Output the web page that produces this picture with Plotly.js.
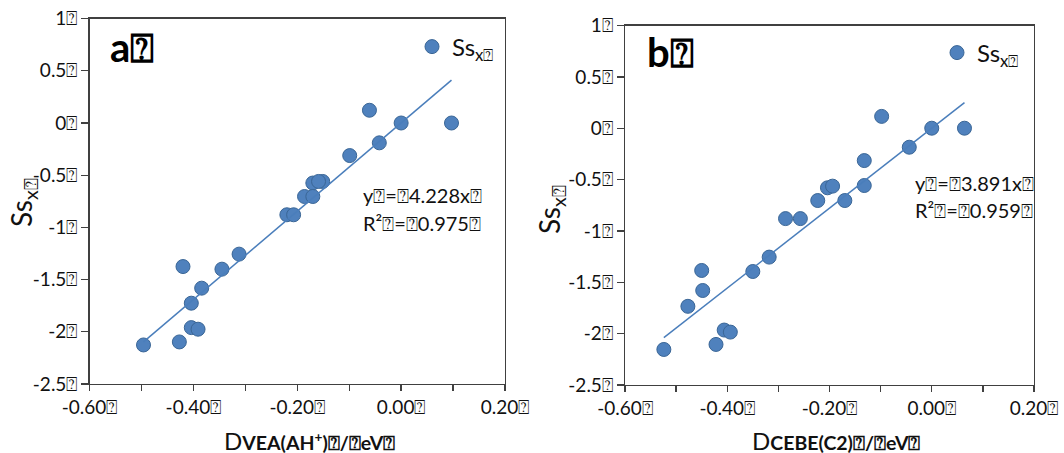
<!DOCTYPE html>
<html>
<head>
<meta charset="utf-8">
<script src="https://cdn.plot.ly/plotly-3.0.1.min.js"></script>
<style>html,body{margin:0;padding:0;background:#fff;}#chart{width:1064px;height:453px;}</style>
</head>
<body>
<div id="chart"></div>
<script>
// Panel a: DVEA(AH+) vs Ss_x
const aX = [-0.061, 0.000, 0.097, -0.042, -0.099, -0.151, -0.170, -0.159, -0.186, -0.170, -0.220, -0.207, -0.312, -0.420, -0.345, -0.384, -0.404, -0.404, -0.391, -0.427, -0.496];
const aY = [0.122, 0.000, 0.000, -0.190, -0.312, -0.560, -0.575, -0.560, -0.704, -0.704, -0.879, -0.879, -1.256, -1.375, -1.400, -1.582, -1.726, -1.960, -1.975, -2.097, -2.126];
const aSlope = 4.228;
const aR2 = 0.975;
// Panel b: DCEBE(C2) vs Ss_x
const bX = [-0.098, 0.000, 0.064, -0.044, -0.132, -0.132, -0.204, -0.194, -0.223, -0.170, -0.286, -0.257, -0.318, -0.450, -0.350, -0.448, -0.477, -0.406, -0.394, -0.422, -0.524];
const bY = [0.115, 0.000, 0.000, -0.185, -0.315, -0.558, -0.580, -0.564, -0.704, -0.704, -0.880, -0.880, -1.255, -1.385, -1.395, -1.580, -1.734, -1.965, -1.985, -2.105, -2.154];
const bSlope = 3.891;
const bR2 = 0.959;

const Q = '\u2370';
const xTickVals = [-0.6, -0.5, -0.4, -0.3, -0.2, -0.1, 0, 0.1, 0.2];
const xTickText = ['-0.60' + Q, '', '-0.40' + Q, '', '-0.20' + Q, '', '0.00' + Q, '', '0.20' + Q];
const yTickVals = [-2.5, -2, -1.5, -1, -0.5, 0, 0.5, 1];
const yTickText = ['-2.5' + Q, '-2' + Q, '-1.5' + Q, '-1' + Q, '-0.5' + Q, '0' + Q, '0.5' + Q, '1' + Q];
const seriesName = 'Ss<sub>x' + Q + '</sub>';
const panelLabels = ['a' + Q, 'b' + Q];
const xTitleParts = [['D', 'VEA(AH<sup>+</sup>)' + Q + '/' + Q + 'eV' + Q], ['D', 'CEBE(C2)' + Q + '/' + Q + 'eV' + Q]];

const FONT = 'Lato, "Open Sans", sans-serif';
const mColor = '#4F81BD', mLine = '#3A6696', lColor = '#4A7EBB', axColor = '#404040';

function fitLine(xs, slope) {
  const lo = Math.min(...xs), hi = Math.max(...xs);
  return {x: [lo, hi], y: [slope * lo, slope * hi]};
}
const la = fitLine(aX, aSlope), lb = fitLine(bX, bSlope);

const traces = [
  {x: aX, y: aY, type: 'scatter', mode: 'markers', name: seriesName, xaxis: 'x', yaxis: 'y', legend: 'legend',
   marker: {size: 14, color: mColor, line: {color: mLine, width: 1}}},
  {x: la.x, y: la.y, type: 'scatter', mode: 'lines', showlegend: false, xaxis: 'x', yaxis: 'y',
   line: {color: lColor, width: 1.5}, hoverinfo: 'skip'},
  {x: bX, y: bY, type: 'scatter', mode: 'markers', name: seriesName, xaxis: 'x2', yaxis: 'y2', legend: 'legend2',
   marker: {size: 14, color: mColor, line: {color: mLine, width: 1}}},
  {x: lb.x, y: lb.y, type: 'scatter', mode: 'lines', showlegend: false, xaxis: 'x2', yaxis: 'y2',
   line: {color: lColor, width: 1.5}, hoverinfo: 'skip'}
];

function xAx(domain, anchor) {
  return {domain: domain, anchor: anchor, range: [-0.6, 0.2], tickmode: 'array', tickvals: xTickVals, ticktext: xTickText,
    showline: true, mirror: true, linecolor: axColor, linewidth: 1.3, ticks: 'outside', ticklen: 6, tickcolor: axColor, tickwidth: 1.3,
    showgrid: false, zeroline: false, tickfont: {family: FONT, size: 19, color: '#111'}, fixedrange: true};
}
function yAx(domain, anchor) {
  return {domain: domain, anchor: anchor, range: [-2.5, 1], tickmode: 'array', tickvals: yTickVals, ticktext: yTickText,
    showline: true, mirror: true, linecolor: axColor, linewidth: 1.3, ticks: 'outside', ticklen: 7, tickcolor: axColor, tickwidth: 1.3,
    showgrid: false, zeroline: false, tickfont: {family: FONT, size: 19, color: '#111'}, fixedrange: true};
}

function px(x) { return x / 1064; }
function py(y) { return 1 - y / 453; }

const ann = [];
function addText(text, x, y, size, opts) {
  ann.push(Object.assign({text: text, xref: 'paper', yref: 'paper', x: px(x), y: py(y), showarrow: false,
    xanchor: 'center', yanchor: 'middle', font: {family: FONT, size: size, color: '#111'}}, opts || {}));
}
addText(panelLabels[0], 108, 47, 40, {xanchor: 'left', font: {family: FONT, size: 40, color: '#000', weight: 'bold'}});
addText(panelLabels[1], 645, 52, 40, {xanchor: 'left', font: {family: FONT, size: 40, color: '#000', weight: 'bold'}});
addText('y' + Q + '=' + Q + aSlope.toFixed(3) + 'x' + Q, 361, 195, 20, {xanchor: 'left'});
addText('R²' + Q + '=' + Q + aR2.toFixed(3) + Q, 361, 223, 20, {xanchor: 'left'});
addText('y' + Q + '=' + Q + bSlope.toFixed(3) + 'x' + Q, 913, 183, 20, {xanchor: 'left'});
addText('R²' + Q + '=' + Q + bR2.toFixed(3) + Q, 913, 210, 20, {xanchor: 'left'});
addText(seriesName, 23, 203, 28, {textangle: -90});
addText(seriesName, 551, 210, 28, {textangle: -90});
function xTitle(parts) {
  return parts[0] + '<span style="font-size:19.5px;font-weight:bold">' + parts[1] + '</span>';
}
addText(xTitle(xTitleParts[0]), 309, 440, 24, {font: {family: FONT, size: 24, color: '#111'}});
addText(xTitle(xTitleParts[1]), 836, 440, 24, {font: {family: FONT, size: 24, color: '#111'}});

const legendBase = {xanchor: 'left', yanchor: 'middle', bgcolor: 'rgba(0,0,0,0)', borderwidth: 0,
  font: {family: FONT, size: 24, color: '#111'}, itemwidth: 30};

const layout = {
  width: 1064, height: 453, margin: {l: 0, r: 0, t: 0, b: 0}, paper_bgcolor: '#fff', plot_bgcolor: '#fff',
  xaxis: xAx([px(89.5), px(505)], 'y'),
  yaxis: yAx([py(384), py(18.6)], 'x'),
  xaxis2: xAx([px(625), px(1034)], 'y2'),
  yaxis2: yAx([py(385), py(25.5)], 'x2'),
  legend: Object.assign({x: px(412), y: py(47)}, legendBase),
  legend2: Object.assign({x: px(937), y: py(53)}, legendBase),
  annotations: ann,
  showlegend: true
};

Plotly.newPlot('chart', traces, layout, {displayModeBar: false, staticPlot: true});
</script>
</body>
</html>
